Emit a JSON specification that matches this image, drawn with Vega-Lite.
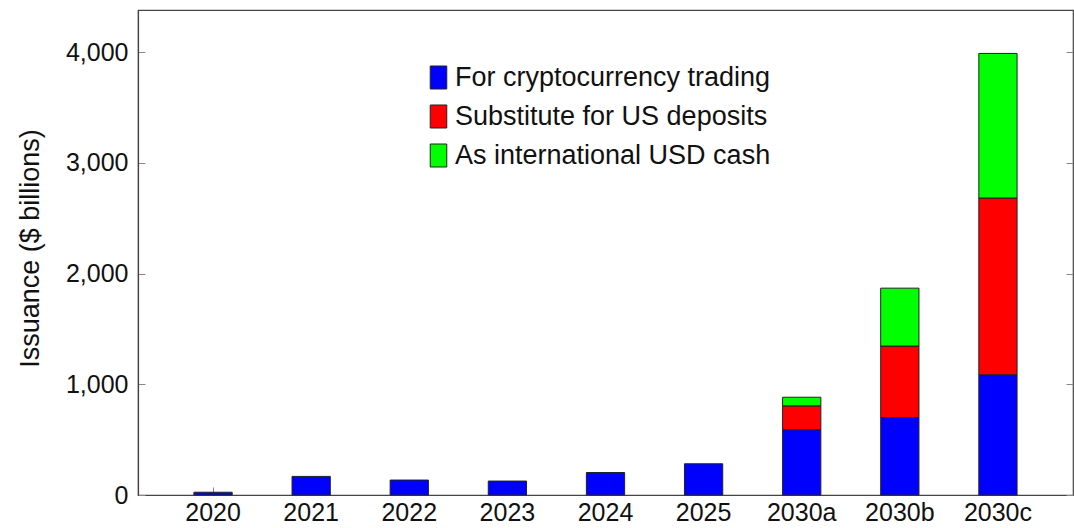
{
  "$schema": "https://vega.github.io/schema/vega-lite/v6.json",
  "width": 935,
  "height": 485,
  "autosize": "none",
  "padding": {"left": 138, "top": 10, "right": 1, "bottom": 33},
  "background": "white",
  "config": {
    "font": "Liberation Sans",
    "view": {"stroke": "#444", "strokeWidth": 1.2},
    "axis": {"domainColor": "#444", "tickColor": "#888", "labelColor": "#111", "titleColor": "#111", "labelFontSize": 25, "titleFontSize": 27, "titleFontWeight": "normal", "grid": false, "zindex": 0}
  },
  "data": {
    "values": [
      {"year": "2020", "use": "For cryptocurrency trading", "k": 1, "value": 25},
      {"year": "2021", "use": "For cryptocurrency trading", "k": 1, "value": 168},
      {"year": "2022", "use": "For cryptocurrency trading", "k": 1, "value": 135},
      {"year": "2023", "use": "For cryptocurrency trading", "k": 1, "value": 126},
      {"year": "2024", "use": "For cryptocurrency trading", "k": 1, "value": 203},
      {"year": "2025", "use": "For cryptocurrency trading", "k": 1, "value": 282},
      {"year": "2030a", "use": "For cryptocurrency trading", "k": 1, "value": 590},
      {"year": "2030a", "use": "Substitute for US deposits", "k": 2, "value": 215},
      {"year": "2030a", "use": "As international USD cash", "k": 3, "value": 78},
      {"year": "2030b", "use": "For cryptocurrency trading", "k": 1, "value": 700},
      {"year": "2030b", "use": "Substitute for US deposits", "k": 2, "value": 645},
      {"year": "2030b", "use": "As international USD cash", "k": 3, "value": 523},
      {"year": "2030c", "use": "For cryptocurrency trading", "k": 1, "value": 1086},
      {"year": "2030c", "use": "Substitute for US deposits", "k": 2, "value": 1596},
      {"year": "2030c", "use": "As international USD cash", "k": 3, "value": 1306}
    ]
  },
  "layer": [
    {
      "mark": {"type": "bar", "stroke": "#222", "strokeWidth": 1},
      "encoding": {
        "x": {
          "field": "year", "type": "nominal", "sort": null,
          "scale": {"paddingInner": 0.61, "paddingOuter": 0.57},
          "axis": {"title": null, "labelAngle": 0, "tickSize": -8, "labelPadding": 13, "domainWidth": 1.2}
        },
        "y": {
          "field": "value", "type": "quantitative", "stack": "zero",
          "scale": {"domain": [0, 4380], "nice": false, "zero": true},
          "axis": {"title": "Issuance ($ billions)", "values": [0, 1000, 2000, 3000, 4000], "format": ",d", "tickSize": -7, "labelPadding": 17, "domainWidth": 1.2, "titleX": -108, "titleY": 238, "titleAlign": "center", "titleBaseline": "middle", "titleAngle": -90}
        },
        "fill": {
          "field": "use", "type": "nominal",
          "scale": {"domain": ["For cryptocurrency trading", "Substitute for US deposits", "As international USD cash"], "range": ["#0000ff", "#ff0000", "#00ff00"]},
          "legend": {
            "title": null, "orient": "none", "legendX": 287, "legendY": 54, "padding": 0,
            "symbolType": "M-0.72,-1L0.72,-1L0.72,1L-0.72,1Z", "symbolSize": 529,
            "symbolStrokeColor": "#222", "symbolStrokeWidth": 1, "symbolOpacity": 1,
            "labelFontSize": 27, "labelColor": "#111", "labelOffset": 3, "rowPadding": 11, "labelLimit": 500
          }
        },
        "order": {"field": "k", "type": "quantitative"}
      }
    },
    {
      "mark": {"type": "bar", "opacity": 0},
      "encoding": {
        "x": {"field": "year", "type": "nominal", "sort": null},
        "y": {
          "field": "value", "type": "quantitative", "stack": "zero",
          "axis": {"orient": "right", "title": null, "labels": false, "values": [0, 1000, 2000, 3000, 4000], "tickSize": -7, "domain": false}
        }
      }
    }
  ],
  "resolve": {"axis": {"y": "independent"}}
}
